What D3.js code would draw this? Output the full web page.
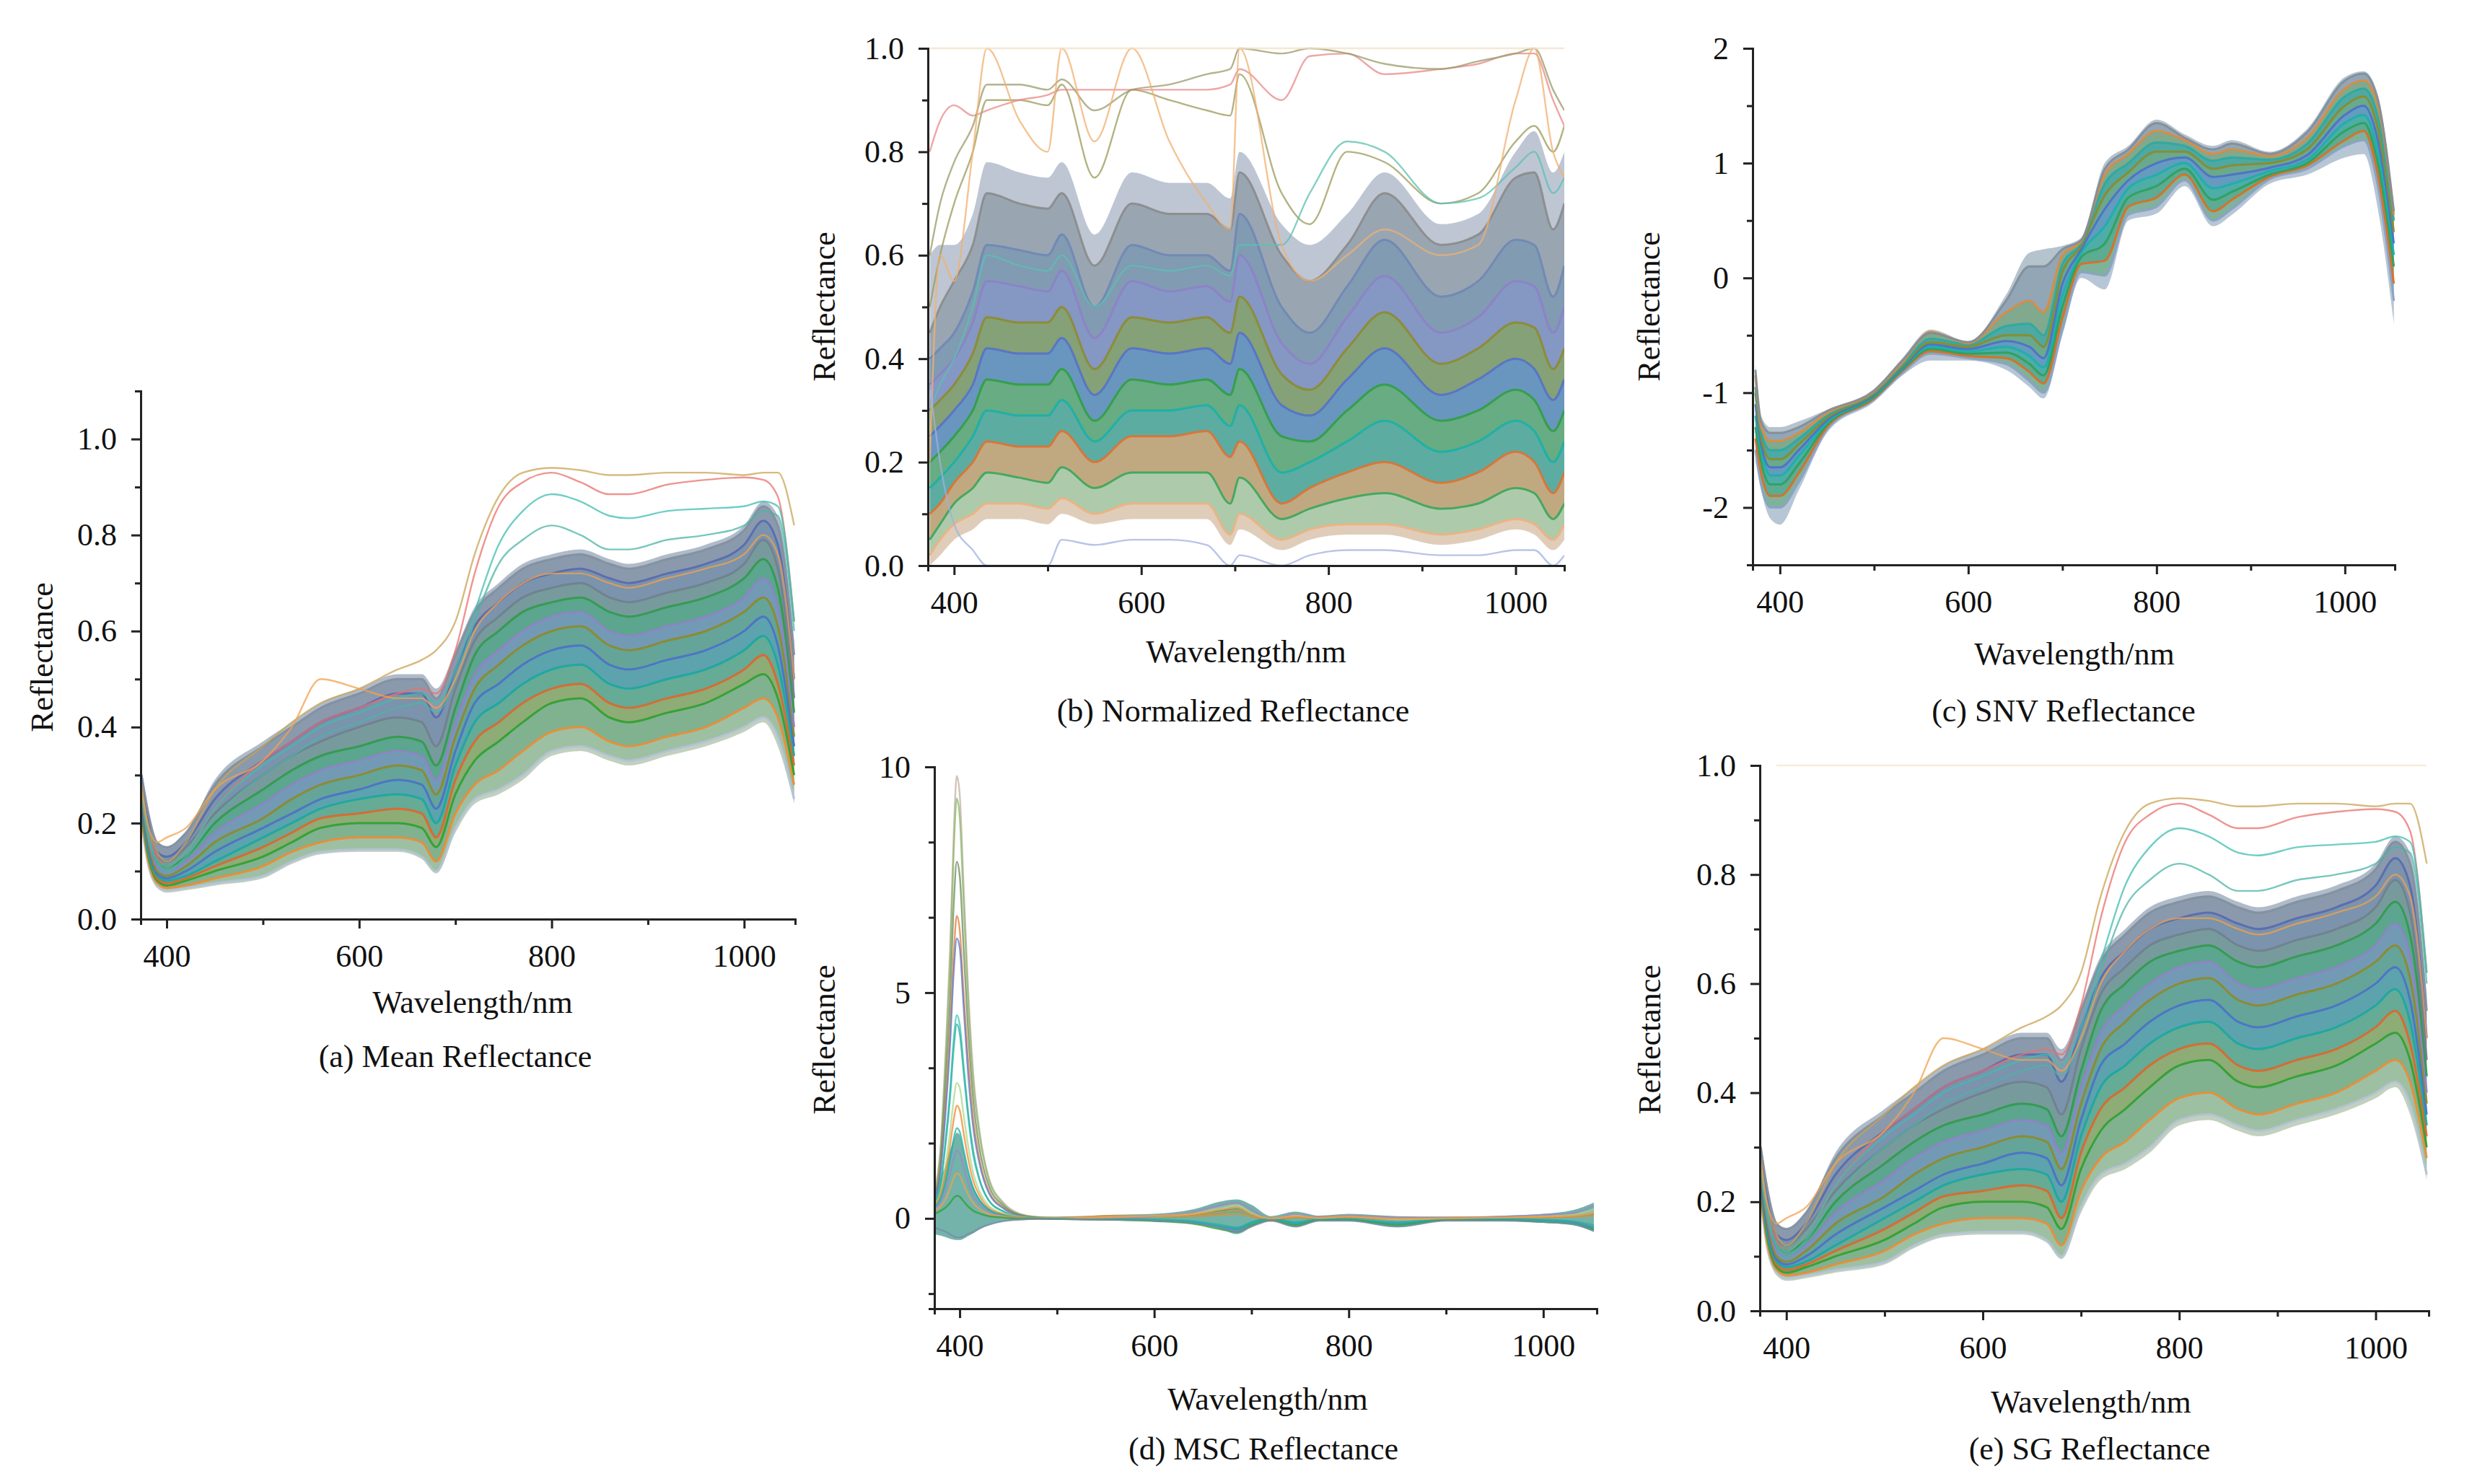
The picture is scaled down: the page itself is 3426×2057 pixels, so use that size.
<!DOCTYPE html>
<html>
<head>
<meta charset="utf-8">
<script src="https://cdn.jsdelivr.net/npm/d3@7"></script>
<style>
  body { margin: 0; background: #fff; }
  text { font-family: 'Liberation Serif', 'Times New Roman', serif; fill: #111; }
</style>
</head>
<body>
<script>
// wavelength grids (nm) the curves were read at
const wl = [374, 380, 390, 400, 420, 450, 500, 530, 560, 600, 640, 665, 680, 700, 720, 745, 770, 800, 830, 860, 880, 920, 960, 1000, 1020, 1035, 1052]
const wlNorm = [374, 385, 400, 420, 435, 470, 500, 515, 550, 590, 630, 670, 695, 705, 750, 780, 820, 860, 920, 960, 1000, 1020, 1040, 1052]
const wlMsc = [374, 380, 386, 390, 394, 397, 400, 404, 408, 414, 420, 430, 445, 460, 480, 520, 560, 600, 640, 670, 685, 700, 720, 745, 770, 800, 850, 900, 960, 1000, 1030, 1052]

//(a) mean reflectance: edges of the dense band, then curves through it (first 12 ordered low->high, then outliers)
const meanLow  = [0.20, 0.12, 0.065, 0.055, 0.06, 0.07, 0.085, 0.115, 0.135, 0.14, 0.14, 0.125, 0.095, 0.18, 0.24, 0.26, 0.29, 0.34, 0.35, 0.33, 0.32, 0.34, 0.36, 0.39, 0.41, 0.36, 0.24]
const meanHigh = [0.31, 0.24, 0.16, 0.15, 0.18, 0.29, 0.37, 0.41, 0.45, 0.48, 0.51, 0.51, 0.48, 0.56, 0.65, 0.70, 0.74, 0.76, 0.77, 0.75, 0.74, 0.76, 0.78, 0.82, 0.87, 0.84, 0.58]
const meanCurves = [
  [0.20, 0.12, 0.07, 0.06, 0.065, 0.075, 0.09, 0.12, 0.14, 0.145, 0.145, 0.13, 0.10, 0.19, 0.25, 0.27, 0.30, 0.35, 0.36, 0.34, 0.33, 0.35, 0.37, 0.40, 0.42, 0.38, 0.25],
  [0.21, 0.13, 0.075, 0.065, 0.07, 0.085, 0.11, 0.14, 0.16, 0.17, 0.17, 0.16, 0.12, 0.22, 0.28, 0.31, 0.35, 0.39, 0.40, 0.37, 0.36, 0.38, 0.40, 0.44, 0.46, 0.42, 0.28],
  [0.22, 0.14, 0.08, 0.07, 0.08, 0.10, 0.13, 0.16, 0.19, 0.20, 0.20, 0.19, 0.15, 0.26, 0.33, 0.37, 0.41, 0.45, 0.46, 0.42, 0.41, 0.43, 0.45, 0.49, 0.51, 0.46, 0.30],
  [0.22, 0.15, 0.085, 0.075, 0.085, 0.11, 0.15, 0.18, 0.21, 0.22, 0.23, 0.22, 0.17, 0.29, 0.37, 0.41, 0.45, 0.48, 0.49, 0.45, 0.44, 0.46, 0.48, 0.52, 0.55, 0.49, 0.32],
  [0.23, 0.15, 0.09, 0.08, 0.09, 0.12, 0.17, 0.20, 0.23, 0.25, 0.26, 0.25, 0.20, 0.32, 0.41, 0.45, 0.49, 0.52, 0.53, 0.49, 0.48, 0.50, 0.52, 0.56, 0.59, 0.53, 0.34],
  [0.24, 0.16, 0.095, 0.085, 0.10, 0.14, 0.19, 0.22, 0.25, 0.27, 0.29, 0.28, 0.23, 0.35, 0.45, 0.49, 0.53, 0.56, 0.57, 0.53, 0.52, 0.54, 0.56, 0.60, 0.63, 0.57, 0.36],
  [0.25, 0.17, 0.10, 0.09, 0.11, 0.16, 0.21, 0.25, 0.28, 0.30, 0.32, 0.31, 0.26, 0.38, 0.48, 0.53, 0.57, 0.60, 0.61, 0.57, 0.56, 0.58, 0.60, 0.64, 0.67, 0.61, 0.38],
  [0.26, 0.18, 0.11, 0.10, 0.12, 0.18, 0.24, 0.28, 0.31, 0.33, 0.35, 0.34, 0.29, 0.41, 0.51, 0.56, 0.60, 0.63, 0.64, 0.60, 0.59, 0.61, 0.63, 0.67, 0.71, 0.65, 0.40],
  [0.27, 0.19, 0.12, 0.11, 0.13, 0.20, 0.27, 0.31, 0.34, 0.36, 0.38, 0.37, 0.32, 0.44, 0.55, 0.60, 0.64, 0.66, 0.67, 0.64, 0.63, 0.65, 0.67, 0.71, 0.75, 0.69, 0.43],
  [0.28, 0.20, 0.13, 0.12, 0.15, 0.22, 0.30, 0.34, 0.37, 0.40, 0.42, 0.41, 0.36, 0.48, 0.58, 0.63, 0.67, 0.69, 0.70, 0.67, 0.66, 0.68, 0.70, 0.74, 0.79, 0.73, 0.46],
  [0.29, 0.21, 0.14, 0.13, 0.16, 0.25, 0.33, 0.37, 0.41, 0.44, 0.47, 0.47, 0.42, 0.52, 0.61, 0.66, 0.70, 0.72, 0.73, 0.71, 0.70, 0.72, 0.74, 0.78, 0.83, 0.78, 0.50],
  [0.30, 0.23, 0.16, 0.15, 0.18, 0.28, 0.36, 0.40, 0.44, 0.47, 0.50, 0.50, 0.46, 0.55, 0.64, 0.69, 0.73, 0.75, 0.76, 0.74, 0.73, 0.75, 0.77, 0.81, 0.86, 0.82, 0.55],
  [0.28, 0.20, 0.14, 0.12, 0.16, 0.27, 0.36, 0.41, 0.45, 0.48, 0.52, 0.54, 0.56, 0.62, 0.76, 0.88, 0.93, 0.94, 0.935, 0.925, 0.925, 0.93, 0.93, 0.925, 0.93, 0.93, 0.82],
  [0.27, 0.19, 0.13, 0.11, 0.14, 0.23, 0.33, 0.37, 0.41, 0.44, 0.47, 0.48, 0.47, 0.56, 0.72, 0.86, 0.91, 0.93, 0.91, 0.885, 0.885, 0.905, 0.915, 0.92, 0.915, 0.88, 0.62],
  [0.27, 0.19, 0.12, 0.11, 0.14, 0.23, 0.32, 0.36, 0.40, 0.43, 0.46, 0.47, 0.45, 0.52, 0.64, 0.78, 0.85, 0.885, 0.87, 0.84, 0.835, 0.85, 0.855, 0.86, 0.87, 0.86, 0.62],
  [0.26, 0.18, 0.12, 0.10, 0.13, 0.21, 0.30, 0.34, 0.38, 0.41, 0.44, 0.45, 0.43, 0.50, 0.62, 0.74, 0.79, 0.82, 0.80, 0.77, 0.77, 0.79, 0.80, 0.82, 0.85, 0.84, 0.60],
  [0.27, 0.20, 0.16, 0.17, 0.19, 0.27, 0.33, 0.40, 0.50, 0.48, 0.46, 0.46, 0.44, 0.50, 0.60, 0.66, 0.70, 0.72, 0.72, 0.70, 0.69, 0.71, 0.73, 0.76, 0.80, 0.76, 0.50]
]

//(b) normalized reflectance (first 10 ordered low->high, then outliers)
const normLow  = [0.00, 0.02, 0.05, 0.07, 0.09, 0.09, 0.08, 0.10, 0.08, 0.09, 0.09, 0.09, 0.04, 0.07, 0.03, 0.05, 0.06, 0.06, 0.04, 0.05, 0.07, 0.06, 0.03, 0.05]
const normHigh = [0.60, 0.62, 0.62, 0.68, 0.78, 0.76, 0.75, 0.78, 0.64, 0.76, 0.74, 0.74, 0.71, 0.80, 0.66, 0.62, 0.68, 0.76, 0.66, 0.68, 0.80, 0.84, 0.76, 0.80]
const normCurves = [
  [0.02, 0.05, 0.08, 0.10, 0.12, 0.12, 0.11, 0.13, 0.10, 0.12, 0.12, 0.12, 0.06, 0.10, 0.05, 0.07, 0.08, 0.08, 0.06, 0.07, 0.09, 0.08, 0.05, 0.08],
  [0.05, 0.08, 0.12, 0.15, 0.18, 0.17, 0.16, 0.19, 0.15, 0.18, 0.18, 0.18, 0.12, 0.17, 0.09, 0.11, 0.13, 0.14, 0.11, 0.12, 0.15, 0.14, 0.09, 0.12],
  [0.10, 0.12, 0.16, 0.20, 0.24, 0.23, 0.23, 0.26, 0.20, 0.25, 0.25, 0.26, 0.21, 0.24, 0.12, 0.15, 0.18, 0.20, 0.16, 0.18, 0.22, 0.20, 0.14, 0.18],
  [0.15, 0.17, 0.20, 0.25, 0.30, 0.29, 0.29, 0.32, 0.24, 0.30, 0.30, 0.31, 0.27, 0.31, 0.18, 0.20, 0.24, 0.28, 0.22, 0.24, 0.28, 0.26, 0.20, 0.24],
  [0.20, 0.22, 0.25, 0.30, 0.36, 0.35, 0.35, 0.38, 0.28, 0.36, 0.35, 0.36, 0.33, 0.38, 0.25, 0.24, 0.30, 0.35, 0.28, 0.30, 0.34, 0.32, 0.26, 0.30],
  [0.25, 0.27, 0.30, 0.35, 0.42, 0.41, 0.41, 0.44, 0.33, 0.42, 0.41, 0.42, 0.39, 0.45, 0.31, 0.29, 0.36, 0.42, 0.33, 0.36, 0.40, 0.38, 0.32, 0.36],
  [0.30, 0.32, 0.35, 0.41, 0.48, 0.47, 0.47, 0.50, 0.38, 0.48, 0.47, 0.48, 0.45, 0.52, 0.37, 0.34, 0.42, 0.49, 0.39, 0.42, 0.47, 0.46, 0.38, 0.42],
  [0.35, 0.37, 0.40, 0.47, 0.55, 0.54, 0.53, 0.57, 0.44, 0.55, 0.53, 0.54, 0.51, 0.60, 0.43, 0.39, 0.48, 0.56, 0.45, 0.48, 0.55, 0.54, 0.45, 0.50],
  [0.40, 0.42, 0.45, 0.53, 0.62, 0.61, 0.60, 0.64, 0.50, 0.62, 0.60, 0.60, 0.57, 0.68, 0.50, 0.45, 0.54, 0.63, 0.52, 0.55, 0.63, 0.62, 0.52, 0.58],
  [0.45, 0.50, 0.55, 0.62, 0.72, 0.70, 0.69, 0.72, 0.58, 0.70, 0.68, 0.68, 0.65, 0.76, 0.60, 0.55, 0.62, 0.72, 0.62, 0.64, 0.75, 0.76, 0.65, 0.70],
  [0.50, 0.60, 0.70, 0.80, 0.90, 0.90, 0.89, 0.93, 0.75, 0.92, 0.90, 0.88, 0.87, 0.95, 0.72, 0.66, 0.80, 0.78, 0.70, 0.72, 0.82, 0.85, 0.80, 0.85],
  [0.80, 0.86, 0.89, 0.87, 0.88, 0.90, 0.91, 0.92, 0.92, 0.92, 0.92, 0.92, 0.93, 0.96, 0.90, 0.985, 0.99, 0.95, 0.96, 0.97, 0.99, 0.99, 0.90, 0.85],
  [0.60, 0.70, 0.78, 0.85, 0.93, 0.93, 0.92, 0.94, 0.88, 0.92, 0.93, 0.95, 0.96, 1.00, 0.99, 1.00, 0.99, 0.97, 0.96, 0.975, 0.99, 1.00, 0.92, 0.88],
  [0.30, 0.35, 0.40, 0.50, 0.60, 0.58, 0.57, 0.60, 0.50, 0.58, 0.57, 0.58, 0.56, 0.62, 0.62, 0.72, 0.82, 0.80, 0.70, 0.71, 0.77, 0.80, 0.72, 0.75],
  [0.20, 0.60, 0.55, 0.80, 1.00, 0.86, 0.80, 1.00, 0.82, 1.00, 0.82, 0.70, 0.65, 1.00, 0.62, 0.55, 0.60, 0.65, 0.60, 0.62, 0.90, 1.00, 0.80, 0.75],
  [1.00, 1.00, 1.00, 1.00, 1.00, 1.00, 1.00, 1.00, 1.00, 1.00, 1.00, 1.00, 1.00, 1.00, 1.00, 1.00, 1.00, 1.00, 1.00, 1.00, 1.00, 1.00, 1.00, 1.00],
  [0.35, 0.20, 0.08, 0.03, 0.00, 0.00, 0.00, 0.05, 0.04, 0.05, 0.05, 0.04, 0.00, 0.02, 0.00, 0.02, 0.03, 0.03, 0.02, 0.02, 0.03, 0.03, 0.00, 0.02]
]

//(c) SNV reflectance (all 9 ordered low->high)
const snvLow  = [-1.6, -1.85, -2.1, -2.15, -1.85, -1.35, -1.08, -0.85, -0.72, -0.72, -0.8, -0.95, -1.05, -0.5, 0.0, -0.1, 0.5, 0.56, 0.8, 0.45, 0.55, 0.82, 0.9, 1.05, 1.08, 0.6, -0.4]
const snvHigh = [-0.75, -1.2, -1.3, -1.3, -1.25, -1.15, -0.98, -0.7, -0.45, -0.55, -0.15, 0.22, 0.25, 0.28, 0.35, 1.0, 1.15, 1.38, 1.25, 1.15, 1.2, 1.1, 1.3, 1.75, 1.8, 1.6, 0.6]
const snvCurves = [
  [-1.5, -1.8, -2.0, -2.0, -1.78, -1.32, -1.06, -0.83, -0.66, -0.70, -0.75, -0.9, -1.0, -0.45, 0.05, 0.02, 0.55, 0.62, 0.85, 0.50, 0.6, 0.86, 0.95, 1.15, 1.2, 0.8, -0.2],
  [-1.4, -1.7, -1.9, -1.9, -1.7, -1.3, -1.05, -0.81, -0.64, -0.68, -0.70, -0.82, -0.92, -0.35, 0.12, 0.15, 0.62, 0.70, 0.9, 0.58, 0.68, 0.88, 0.98, 1.2, 1.28, 0.9, -0.05],
  [-1.3, -1.6, -1.8, -1.8, -1.62, -1.28, -1.04, -0.8, -0.62, -0.66, -0.65, -0.75, -0.85, -0.25, 0.18, 0.3, 0.7, 0.8, 0.95, 0.68, 0.75, 0.9, 1.0, 1.28, 1.35, 1.0, 0.1],
  [-1.2, -1.5, -1.72, -1.72, -1.55, -1.26, -1.03, -0.79, -0.6, -0.64, -0.6, -0.68, -0.78, -0.15, 0.22, 0.45, 0.78, 0.9, 1.0, 0.78, 0.82, 0.93, 1.03, 1.35, 1.42, 1.1, 0.2],
  [-1.1, -1.45, -1.65, -1.65, -1.5, -1.24, -1.02, -0.78, -0.58, -0.62, -0.55, -0.6, -0.7, -0.05, 0.25, 0.6, 0.85, 1.0, 1.05, 0.88, 0.9, 0.96, 1.07, 1.42, 1.5, 1.2, 0.3],
  [-1.0, -1.4, -1.58, -1.58, -1.45, -1.22, -1.01, -0.77, -0.56, -0.6, -0.5, -0.5, -0.6, 0.05, 0.28, 0.72, 0.92, 1.1, 1.1, 0.95, 0.98, 1.0, 1.12, 1.5, 1.58, 1.3, 0.4],
  [-0.95, -1.35, -1.5, -1.5, -1.4, -1.2, -1.0, -0.76, -0.53, -0.58, -0.42, -0.4, -0.5, 0.12, 0.3, 0.82, 1.0, 1.18, 1.15, 1.02, 1.05, 1.03, 1.17, 1.58, 1.65, 1.4, 0.5],
  [-0.85, -1.3, -1.42, -1.42, -1.35, -1.18, -0.99, -0.74, -0.47, -0.57, -0.3, -0.2, -0.3, 0.2, 0.32, 0.9, 1.08, 1.28, 1.2, 1.08, 1.12, 1.06, 1.22, 1.65, 1.72, 1.5, 0.55],
  [-0.8, -1.25, -1.35, -1.35, -1.3, -1.16, -0.98, -0.72, -0.48, -0.56, -0.2, 0.1, 0.1, 0.25, 0.33, 0.95, 1.12, 1.35, 1.22, 1.12, 1.17, 1.08, 1.27, 1.72, 1.78, 1.55, 0.58]
]

//(d) MSC reflectance
const mscLow  = [-0.35, -0.38, -0.42, -0.45, -0.47, -0.48, -0.48, -0.45, -0.4, -0.33, -0.25, -0.15, -0.07, -0.04, -0.03, -0.03, -0.04, -0.06, -0.12, -0.25, -0.35, -0.2, -0.06, -0.2, -0.06, -0.06, -0.2, -0.06, -0.06, -0.1, -0.15, -0.3]
const mscHigh = [0.6, 0.9, 1.2, 1.5, 1.75, 1.9, 1.85, 1.5, 1.1, 0.7, 0.45, 0.22, 0.1, 0.05, 0.04, 0.05, 0.08, 0.1, 0.2, 0.38, 0.42, 0.3, 0.05, 0.15, 0.06, 0.1, 0.05, 0.04, 0.06, 0.1, 0.18, 0.35]
const mscCurves = [
  [0.6, 1.5, 3.9, 5.9, 8.6, 9.8, 9.4, 7.4, 5.4, 3.2, 2.0, 0.9, 0.35, 0.12, 0.03, 0, 0.02, 0.05, 0.12, 0.25, 0.3, 0.12, -0.04, 0.06, 0, 0.04, -0.03, 0, 0.03, 0.05, 0.06, 0.15],
  [0.55, 1.4, 3.7, 5.6, 8.2, 9.3, 8.9, 7.0, 5.1, 3.0, 1.9, 0.85, 0.32, 0.1, 0.03, 0, 0.01, 0.03, 0.08, 0.15, 0.2, 0.08, -0.05, 0.03, 0, 0.02, -0.02, 0, 0.02, 0.04, 0.05, 0.12],
  [0.5, 1.2, 3.2, 4.8, 7.0, 7.9, 7.6, 6.0, 4.4, 2.6, 1.6, 0.72, 0.28, 0.09, 0.02, 0, 0.02, 0.04, 0.1, 0.18, 0.22, 0.1, -0.03, 0.04, 0.01, 0.03, -0.01, 0, 0.03, 0.05, 0.06, 0.1],
  [0.45, 1.05, 2.7, 4.1, 5.9, 6.7, 6.4, 5.0, 3.7, 2.2, 1.35, 0.6, 0.24, 0.08, 0.02, -0.01, 0, 0.02, 0.06, 0.12, 0.15, 0.05, -0.05, 0.02, -0.01, 0.02, -0.02, -0.01, 0.02, 0.03, 0.04, 0.08],
  [0.4, 1.0, 2.5, 3.8, 5.5, 6.2, 6.0, 4.7, 3.4, 2.0, 1.25, 0.56, 0.22, 0.07, 0.01, -0.02, -0.03, -0.05, -0.1, -0.2, -0.25, -0.1, 0, -0.1, -0.02, -0.03, -0.1, -0.03, -0.02, -0.04, -0.08, -0.2],
  [0.35, 0.75, 1.85, 2.8, 4.0, 4.5, 4.3, 3.4, 2.5, 1.5, 0.9, 0.4, 0.16, 0.05, 0.01, 0.01, 0.05, 0.02, 0.04, 0.1, 0.12, 0.05, 0, 0.03, 0.02, 0.05, 0, 0.01, 0.02, 0.03, 0.05, 0.1],
  [0.33, 0.72, 1.75, 2.65, 3.8, 4.3, 4.1, 3.25, 2.4, 1.4, 0.87, 0.39, 0.15, 0.05, 0.01, -0.01, 0, -0.02, -0.06, -0.15, -0.2, -0.08, 0, -0.08, -0.01, -0.02, -0.08, -0.02, -0.02, -0.03, -0.06, -0.15],
  [0.3, 0.55, 1.25, 1.9, 2.65, 3.0, 2.9, 2.3, 1.7, 1.0, 0.62, 0.28, 0.11, 0.04, 0.01, 0.01, 0.03, 0.04, 0.1, 0.22, 0.28, 0.12, -0.02, 0.08, 0.01, 0.05, -0.02, 0, 0.03, 0.05, 0.08, 0.2],
  [0.3, 0.5, 1.05, 1.6, 2.2, 2.5, 2.4, 1.9, 1.4, 0.83, 0.52, 0.23, 0.09, 0.03, 0, 0.02, 0.06, 0.04, 0.05, 0.08, 0.1, 0.04, 0.01, 0.02, 0.03, 0.06, 0.01, 0.02, 0.03, 0.02, 0.04, 0.06],
  [0.25, 0.42, 0.85, 1.3, 1.78, 2.0, 1.92, 1.52, 1.12, 0.67, 0.42, 0.19, 0.07, 0.02, 0, -0.01, -0.02, -0.04, -0.08, -0.18, -0.22, -0.1, -0.01, -0.12, -0.03, -0.02, -0.12, -0.03, -0.03, -0.05, -0.1, -0.22],
  [0.2, 0.35, 0.65, 0.98, 1.34, 1.5, 1.44, 1.14, 0.84, 0.5, 0.32, 0.14, 0.05, 0.02, 0, 0, 0.02, 0.05, 0.14, 0.3, 0.35, 0.2, -0.02, 0.1, 0.02, 0.06, 0.02, 0.01, 0.04, 0.08, 0.12, 0.28],
  [0.18, 0.26, 0.45, 0.66, 0.9, 1.0, 0.96, 0.76, 0.56, 0.34, 0.21, 0.1, 0.04, 0.01, 0, 0.01, 0.03, 0.06, 0.1, 0.2, 0.24, 0.1, 0, 0.05, 0.01, 0.04, -0.01, 0, 0.02, 0.04, 0.06, 0.12],
  [0.1, 0.16, 0.25, 0.34, 0.46, 0.5, 0.48, 0.38, 0.28, 0.17, 0.11, 0.05, 0.02, 0, 0, -0.02, -0.03, -0.06, -0.12, -0.25, -0.3, -0.15, -0.04, -0.15, -0.04, -0.04, -0.15, -0.04, -0.04, -0.08, -0.12, -0.25],
  [-0.2, -0.25, -0.3, -0.35, -0.4, -0.42, -0.42, -0.4, -0.35, -0.3, -0.22, -0.14, -0.06, -0.03, -0.01, -0.02, -0.03, -0.05, -0.1, -0.22, -0.3, -0.18, -0.05, -0.18, -0.05, -0.05, -0.18, -0.05, -0.05, -0.08, -0.12, -0.28]
]

//(e) SG reflectance: the smoothed curves sit on the mean ones at this resolution, plus a pale line at 1.0
const sgLow = meanLow
const sgHigh = meanHigh
const sgCurves = meanCurves.concat([
  [null, null, 1, 1, 1, 1, 1, 1, 1, 1, 1, 1, 1, 1, 1, 1, 1, 1, 1, 1, 1, 1, 1, 1, 1, 1, 1]
])

//line colours
const meanColors = ['#b4c2d6', '#f08a30', '#2ca02c', '#e0642a', '#17a7a0', '#4a6fc8', '#8d8a26', '#8f82c8', '#2f9a4a', '#6f7f8c', '#5668b0', '#7f8f9e',
  '#c9a354', '#e8706c', '#3fbdb0', '#4bb4a6', '#f0a24e']
const normColors = ['#f0b080', '#3aa55a', '#e07030', '#17b0a8', '#2e9e40', '#5570c8', '#8e8a2c', '#8e80c8', '#6f86b4', '#8a8a8a',
  '#9a9a5a', '#e88888', '#9a9a6a', '#5cc0b0', '#f0b070', '#f3dfc6', '#a0b0e0']
const snvColors = ['#8aa0c8', '#e06a20', '#2ca05a', '#17b0a8', '#4a6fc8', '#8d8a26', '#2aa8a0', '#e08a3a', '#7f8c98']
const mscColors = ['#c2b0a4', '#8cb86a', '#6a8a5a', '#e07b39', '#5a78c8', '#3cc4b2', '#2ab0a2', '#a8d890', '#f08a2a', '#17b0a8', '#9b8ac8', '#f0a050', '#2ca02c', '#7a8aa8']
const sgColors = meanColors.concat(['#f6e4cc'])

//fills between neighbouring curves, bottom to top: close tones so the band reads as one dense bundle
const meanStripes = ['#b7c9b4', '#8db592', '#6aa57c', '#7a9d5e', '#4a9c84', '#3f93a0', '#4a9486', '#5a88a8', '#3f957a', '#5f8a8c', '#64809e', '#76889e', '#a2afc0']
const normStripes = ['#d9c4ae', '#9fc29c', '#b59a6a', '#3f9e92', '#4c9d6c', '#4f84b4', '#6f9160', '#6e86b8', '#6a8aa4', '#8797a4', '#b3bccc']
const snvStripes = ['#a9bccc', '#6aa48a', '#3f9c80', '#2f9f98', '#4a8ab4', '#4f9a7a', '#2f9a94', '#6a9a7a', '#7f96a8', '#a8b8c4']
const mscStripes = ['#5aa69a']

const width = 3426
const height = 2057

let svg = d3.select('body')
  .append('svg')
  .attr('width', width)
  .attr('height', height)
  .style('background', '#fff')

let panelCount = 0

function drawPanel(p) {
  panelCount++
  const x = d3.scaleLinear().domain(p.xDomain).range([p.left, p.right])
  const y = d3.scaleLinear().domain(p.yDomain).range([p.bottom, p.top])

  svg.append('clipPath')
    .attr('id', 'clip' + panelCount)
    .append('rect')
    .attr('x', p.left)
    .attr('y', p.top - 2)
    .attr('width', p.right - p.left)
    .attr('height', p.bottom - p.top + 2)

  let plot = svg.append('g').attr('clip-path', 'url(#clip' + panelCount + ')')

  //stack of band edges: low edge, the ordered curves, high edge
  const edges = [p.low].concat(p.curves.slice(0, p.ordered)).concat([p.high])
  const pairs = d3.pairs(edges)

  const area = d3.area()
    .x((d, i) => x(p.wl[i]))
    .y0(d => y(d[0]))
    .y1(d => y(d[1]))
    .curve(p.curve)

  plot.selectAll('path.stripe')
    .data(pairs)
    .enter()
    .append('path')
    .attr('class', 'stripe')
    .attr('d', pr => area(pr[0].map((v, i) => [v, pr[1][i]])))
    .attr('fill', (d, i) => p.stripes[i % p.stripes.length])
    .attr('opacity', 0.85)

  const line = d3.line()
    .defined(d => d != null)
    .x((d, i) => x(p.wl[i]))
    .y(d => y(d))
    .curve(p.curve)

  plot.selectAll('path.curve')
    .data(p.curves)
    .enter()
    .append('path')
    .attr('class', 'curve')
    .attr('d', line)
    .attr('fill', 'none')
    .attr('stroke', (d, i) => p.colors[i % p.colors.length])
    .attr('stroke-width', (d, i) => i < p.ordered ? p.lineWidth : 2.4)
    .attr('stroke-opacity', (d, i) => i < p.ordered ? 0.9 : 0.75)

  //axes, major then minor ticks
  const xAxis = d3.axisBottom(x).tickValues([400, 600, 800, 1000]).tickSize(13).tickSizeOuter(8).tickPadding(22).tickFormat(d => String(d))
  const xMinor = d3.axisBottom(x).tickValues([500, 700, 900]).tickSize(8).tickSizeOuter(0).tickFormat('')
  const yAxis = d3.axisLeft(y).tickValues(p.yTicks).tickSize(13).tickSizeOuter(8).tickPadding(20).tickFormat(p.yFormat)
  const yMinor = d3.axisLeft(y).tickValues(p.yMinor).tickSize(8).tickSizeOuter(0).tickFormat('')

  const axes = [
    svg.append('g').attr('transform', 'translate(0,' + p.bottom + ')').call(xMinor),
    svg.append('g').attr('transform', 'translate(' + p.left + ',0)').call(yMinor),
    svg.append('g').attr('transform', 'translate(0,' + p.bottom + ')').call(xAxis),
    svg.append('g').attr('transform', 'translate(' + p.left + ',0)').call(yAxis)
  ]
  axes.forEach(a => {
    a.selectAll('path.domain').attr('stroke', '#222').attr('stroke-width', 3)
    a.selectAll('line').attr('stroke', '#222').attr('stroke-width', 3)
    a.selectAll('text').attr('font-size', '44px').attr('fill', '#111')
      .style('font-family', "'Liberation Serif', 'Times New Roman', serif")
  })

  svg.append('text')
    .attr('x', p.xLabel[0])
    .attr('y', p.xLabel[1])
    .attr('text-anchor', 'middle')
    .attr('dominant-baseline', 'central')
    .attr('font-size', '44px')
    .text('Wavelength/nm')

  svg.append('text')
    .attr('x', p.yLabel[0])
    .attr('y', p.yLabel[1])
    .attr('transform', 'rotate(-90,' + p.yLabel[0] + ',' + p.yLabel[1] + ')')
    .attr('text-anchor', 'middle')
    .attr('dominant-baseline', 'central')
    .attr('font-size', '44px')
    .text('Reflectance')

  svg.append('text')
    .attr('x', p.caption[0])
    .attr('y', p.caption[1])
    .attr('text-anchor', 'middle')
    .attr('dominant-baseline', 'central')
    .attr('font-size', '44px')
    .text(p.title)
}

const fmt1 = d3.format('.1f')

drawPanel({
  title: '(a) Mean Reflectance', wl: wl, low: meanLow, high: meanHigh, curves: meanCurves, ordered: 12,
  colors: meanColors, stripes: meanStripes, lineWidth: 3, curve: d3.curveMonotoneX,
  left: 195, right: 1102, top: 542, bottom: 1274, xDomain: [373, 1053], yDomain: [0, 1.1],
  yTicks: [0, 0.2, 0.4, 0.6, 0.8, 1.0], yMinor: [0.1, 0.3, 0.5, 0.7, 0.9], yFormat: fmt1,
  xLabel: [655, 1389], yLabel: [58, 911], caption: [631, 1464]
})

drawPanel({
  title: '(b) Normalized Reflectance', wl: wlNorm, low: normLow, high: normHigh, curves: normCurves, ordered: 10,
  colors: normColors, stripes: normStripes, lineWidth: 3, curve: d3.curveMonotoneX,
  left: 1286, right: 2168, top: 67, bottom: 784, xDomain: [372, 1052], yDomain: [0, 1],
  yTicks: [0, 0.2, 0.4, 0.6, 0.8, 1.0], yMinor: [0.1, 0.3, 0.5, 0.7, 0.9], yFormat: fmt1,
  xLabel: [1727, 903], yLabel: [1142, 425], caption: [1709, 985]
})

drawPanel({
  title: '(c) SNV Reflectance', wl: wl, low: snvLow, high: snvHigh, curves: snvCurves, ordered: 9,
  colors: snvColors, stripes: snvStripes, lineWidth: 3, curve: d3.curveMonotoneX,
  left: 2429, right: 3319, top: 67, bottom: 783, xDomain: [371, 1053], yDomain: [-2.5, 2],
  yTicks: [-2, -1, 0, 1, 2], yMinor: [-1.5, -0.5, 0.5, 1.5], yFormat: d => String(d),
  xLabel: [2875, 906], yLabel: [2285, 425], caption: [2860, 985]
})

drawPanel({
  title: '(d) MSC Reflectance', wl: wlMsc, low: mscLow, high: mscHigh, curves: mscCurves, ordered: 0,
  colors: mscColors, stripes: mscStripes, lineWidth: 3, curve: d3.curveMonotoneX,
  left: 1295, right: 2213, top: 1063, bottom: 1814, xDomain: [374, 1055], yDomain: [-2, 10],
  yTicks: [0, 5, 10], yMinor: [-5 / 3, 5 / 3, 10 / 3, 20 / 3, 25 / 3], yFormat: d => String(d),
  xLabel: [1757, 1939], yLabel: [1142, 1441], caption: [1751, 2008]
})

drawPanel({
  title: '(e) SG Reflectance', wl: wl, low: sgLow, high: sgHigh, curves: sgCurves, ordered: 12,
  colors: sgColors, stripes: meanStripes, lineWidth: 3, curve: d3.curveMonotoneX,
  left: 2439, right: 3366, top: 1061, bottom: 1817, xDomain: [373, 1054], yDomain: [0, 1],
  yTicks: [0, 0.2, 0.4, 0.6, 0.8, 1.0], yMinor: [0.1, 0.3, 0.5, 0.7, 0.9], yFormat: fmt1,
  xLabel: [2898, 1943], yLabel: [2286, 1441], caption: [2896, 2008]
})
</script>
</body>
</html>
